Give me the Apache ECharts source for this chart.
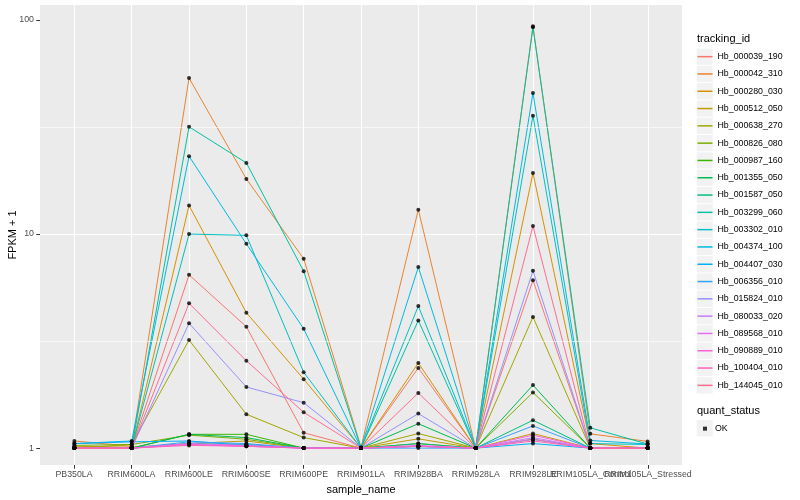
<!DOCTYPE html>
<html><head><meta charset="utf-8">
<script src="https://cdn.jsdelivr.net/npm/echarts@6/dist/echarts.min.js"></script>
<style>html,body{margin:0;padding:0;background:#fff}#c{width:800px;height:500px}</style>
</head><body><div id="c"></div>
<script>
const categories = ['PB350LA','RRIM600LA','RRIM600LE','RRIM600SE','RRIM600PE','RRIM901LA','RRIM928BA','RRIM928LA','RRIM928LE','RRIM105LA_Control','RRIM105LA_Stressed'];
const trackingIds = ['Hb_000039_190','Hb_000042_310','Hb_000280_030','Hb_000512_050','Hb_000638_270','Hb_000826_080','Hb_000987_160','Hb_001355_050','Hb_001587_050','Hb_003299_060','Hb_003302_010','Hb_004374_100','Hb_004407_030','Hb_006356_010','Hb_015824_010','Hb_080033_020','Hb_089568_010','Hb_090889_010','Hb_100404_010','Hb_144045_010'];

const hb_000039_190 = [1.0, 1.0, 6.45, 3.69, 1.18, 1.0, 2.37, 1.0, 6.08, 1.0, 1.0];
const hb_000042_310 = [1.08, 1.02, 53.6, 18.1, 7.67, 1.01, 13.0, 1.0, 93.5, 1.166, 1.075];
const hb_000280_030 = [1.0, 1.0, 13.6, 4.29, 2.10, 1.0, 2.50, 1.0, 19.3, 1.05, 1.0];
const hb_000512_050 = [1.02, 1.01, 1.05, 1.08, 1.0, 1.0, 1.105, 1.0, 1.17, 1.0, 1.0];
const hb_000638_270 = [1.0, 1.04, 3.2, 1.44, 1.12, 1.0, 1.17, 1.0, 4.10, 1.0, 1.0];
const hb_000826_080 = [1.03, 1.04, 1.15, 1.10, 1.0, 1.0, 1.05, 1.0, 1.82, 1.0, 1.0];
const hb_000987_160 = [1.0, 1.0, 1.16, 1.16, 1.0, 1.0, 1.02, 1.0, 1.10, 1.0, 1.0];
const hb_001355_050 = [1.0, 1.0, 1.16, 1.12, 1.0, 1.0, 1.30, 1.0, 1.97, 1.0, 1.0];
const hb_001587_050 = [1.0, 1.0, 1.05, 1.04, 1.0, 1.0, 1.05, 1.0, 1.35, 1.0, 1.0];
const hb_003299_060 = [1.0, 1.0, 31.7, 21.5, 6.71, 1.0, 3.95, 1.0, 92.5, 1.244, 1.045];
const hb_003302_010 = [1.0, 1.0, 10.0, 9.86, 2.26, 1.0, 4.61, 1.0, 35.7, 1.05, 1.04];
const hb_004374_100 = [1.05, 1.08, 23.1, 9.0, 3.61, 1.0, 7.01, 1.0, 45.6, 1.086, 1.045];
const hb_004407_030 = [1.05, 1.07, 1.08, 1.03, 1.0, 1.0, 1.02, 1.0, 1.05, 1.0, 1.0];
const hb_006356_010 = [1.0, 1.0, 1.07, 1.05, 1.0, 1.0, 1.0, 1.0, 1.27, 1.0, 1.0];
const hb_015824_010 = [1.0, 1.0, 3.83, 1.93, 1.63, 1.0, 1.45, 1.0, 6.74, 1.0, 1.0];
const hb_080033_020 = [1.0, 1.0, 1.04, 1.02, 1.0, 1.0, 1.02, 1.0, 1.12, 1.0, 1.0];
const hb_089568_010 = [1.0, 1.0, 1.05, 1.03, 1.0, 1.0, 1.03, 1.0, 1.10, 1.0, 1.0];
const hb_090889_010 = [1.0, 1.0, 1.04, 1.02, 1.0, 1.0, 1.02, 1.0, 1.15, 1.0, 1.0];
const hb_100404_010 = [1.0, 1.0, 1.03, 1.02, 1.0, 1.0, 1.02, 1.0, 1.08, 1.0, 1.0];
const hb_144045_010 = [1.0, 1.0, 4.75, 2.56, 1.47, 1.0, 1.81, 1.0, 10.9, 1.0, 1.0];

const seriesValues = [hb_000039_190, hb_000042_310, hb_000280_030, hb_000512_050, hb_000638_270, hb_000826_080, hb_000987_160, hb_001355_050, hb_001587_050, hb_003299_060, hb_003302_010, hb_004374_100, hb_004407_030, hb_006356_010, hb_015824_010, hb_080033_020, hb_089568_010, hb_090889_010, hb_100404_010, hb_144045_010];

const yTicks = [1, 10, 100];
const yMinorTicks = [3.1623, 31.623];
const statusNames = ['OK'];

const palette = ['#F8766D','#EA8331','#D89000','#C09B00','#A3A500','#7CAE00','#39B600','#00BB4E','#00BF7D','#00C1A3','#00BFC4','#00BAE0','#00B0F6','#35A2FF','#9590FF','#C77CFF','#E76BF3','#FA62DB','#FF62BC','#FF6C91'];
const FONT = '"Liberation Sans", Arial, Helvetica, sans-serif';
const Y_MIN = 0.834, Y_MAX = 117.5;
const X_PAD = 0.6;               // ggplot discrete expansion
const LEG_TOP = 48, LEG_STEP = 17.3;

const chart = echarts.init(document.getElementById('c'), null, {renderer: 'canvas'});

const lineSeries = seriesValues.map((vals, i) => ({
  name: trackingIds[i], type: 'line', xAxisIndex: 0, yAxisIndex: 0,
  data: vals.map((v, j) => [j, v]), showSymbol: false, symbol: 'none',
  lineStyle: {width: 1, color: palette[i]}, itemStyle: {color: palette[i]},
  z: 3, silent: true, emphasis: {disabled: true}
}));

const pts = [];
seriesValues.forEach(vals => vals.forEach((v, j) => pts.push([j, v])));

const keyBoxes = [];
for (let i = 0; i < trackingIds.length; i++) {
  keyBoxes.push({type: 'rect', shape: {x: 696.7, y: LEG_TOP + LEG_STEP * i + 0.5, width: 16, height: LEG_STEP - 1}, style: {fill: '#F2F2F2'}, z: 0, silent: true});
}
keyBoxes.push({type: 'rect', shape: {x: 696.7, y: 420, width: 16, height: LEG_STEP - 1}, style: {fill: '#F2F2F2'}, z: 0, silent: true});

const option = {
  animation: false,
  backgroundColor: '#fff',
  textStyle: {fontFamily: FONT},
  title: [
    {text: 'tracking_id', left: 697, top: 33, padding: 0, textStyle: {fontSize: 11, fontWeight: 'normal', color: '#000', fontFamily: FONT}},
    {text: 'quant_status', left: 697, top: 405, padding: 0, textStyle: {fontSize: 11, fontWeight: 'normal', color: '#000', fontFamily: FONT}}
  ],
  graphic: keyBoxes,
  legend: [
    {data: trackingIds, orient: 'vertical', left: 697.5, top: LEG_TOP, padding: 0, itemGap: 0,
     itemWidth: 15, itemHeight: 1.5, icon: 'rect', selectedMode: false,
     textStyle: {fontSize: 8.8, color: '#000', fontFamily: FONT, lineHeight: LEG_STEP, height: LEG_STEP}},
    {data: statusNames, orient: 'vertical', left: 703, top: 420, padding: 0, itemGap: 0,
     itemWidth: 4, itemHeight: 4, icon: 'rect', selectedMode: false,
     textStyle: {fontSize: 8.8, color: '#000', fontFamily: FONT, lineHeight: LEG_STEP, height: LEG_STEP, padding: [0, 0, 0, 3]}}
  ],
  grid: [
    {left: 40, right: 118, top: 5, bottom: 35, show: true, backgroundColor: '#EBEBEB', borderWidth: 0, containLabel: false, outerBoundsMode: 'none'},
    {left: 74, right: 152, top: 5, bottom: 35, show: false, containLabel: false, outerBoundsMode: 'none'}
  ],
  xAxis: [
    {type: 'value', gridIndex: 0, min: -X_PAD, max: categories.length - 1 + X_PAD, show: false,
     axisLine: {onZero: false}, splitLine: {show: false}},
    {type: 'category', gridIndex: 1, data: categories, boundaryGap: false,
     axisLine: {show: false, onZero: false},
     axisTick: {show: true, length: 3.7, interval: 0, lineStyle: {color: '#333', width: 1}},
     axisLabel: {interval: 0, color: '#4D4D4D', fontSize: 8.8, fontFamily: FONT, margin: 5},
     splitLine: {show: true, interval: 0, lineStyle: {color: '#fff', width: 1.1}},
     name: 'sample_name', nameLocation: 'middle', nameGap: 19, nameMoveOverlap: false,
     nameTextStyle: {color: '#000', fontSize: 11, fontFamily: FONT}}
  ],
  yAxis: [
    {type: 'log', gridIndex: 0, logBase: 10, min: Y_MIN, max: Y_MAX,
     axisLine: {show: false, onZero: false},
     axisTick: {show: true, length: 3.7, customValues: yTicks, lineStyle: {color: '#333', width: 1}},
     axisLabel: {customValues: yTicks, color: '#4D4D4D', fontSize: 8.8, fontFamily: FONT, margin: 6},
     splitLine: {show: true, showMinLine: false, showMaxLine: false, lineStyle: {color: '#fff', width: 1.1}},
     name: 'FPKM + 1', nameLocation: 'middle', nameGap: 22, nameRotate: 90, nameMoveOverlap: false,
     nameTextStyle: {color: '#000', fontSize: 11, fontFamily: FONT}},
    {type: 'value', gridIndex: 1, min: 0, max: 1, show: false, axisLine: {onZero: false}}
  ],
  series: [
    {type: 'line', xAxisIndex: 0, yAxisIndex: 0, data: [], z: 1, silent: true,
     markLine: {silent: true, symbol: 'none', label: {show: false}, animation: false,
       lineStyle: {color: '#fff', width: 0.6, type: 'solid'},
       emphasis: {disabled: true},
       data: yMinorTicks.map(v => ({yAxis: v}))}}
  ].concat(lineSeries).concat([
    {name: 'OK', type: 'scatter', xAxisIndex: 0, yAxisIndex: 0, data: pts,
     symbol: 'circle', symbolSize: 4, itemStyle: {color: '#000'}, z: 5, silent: true}
  ])
};
chart.setOption(option);
</script></body></html>
